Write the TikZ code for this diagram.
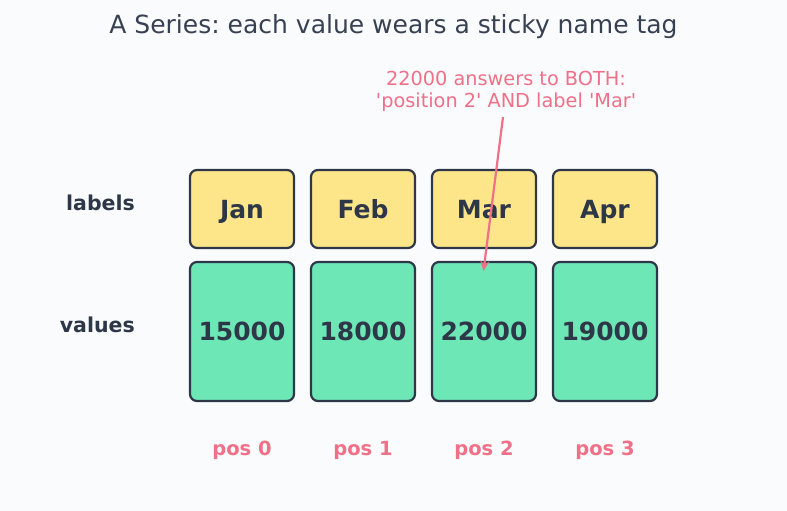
\documentclass[tikz,border=0pt]{standalone}
\usepackage{fontspec}
\setmainfont{DejaVu Sans}
\newfontfamily\plainfont{DejaVu Sans}
\frenchspacing
\usetikzlibrary{arrows.meta}
\definecolor{bgc}{HTML}{FAFBFD}
\definecolor{ink}{HTML}{2D3748}
\definecolor{titlec}{HTML}{374151}
\definecolor{tagc}{HTML}{FDE68A}
\definecolor{valc}{HTML}{6EE7B7}
\definecolor{pinkc}{HTML}{F07088}
\tikzset{
  boxtext/.style={text=ink, font=\bfseries\fontsize{25}{30}\selectfont, text height=18pt, text depth=0pt},
  tagbox/.style={draw=ink, line width=2.2pt, fill=tagc, rounded corners=7pt, minimum width=104pt, minimum height=78pt, inner sep=0pt, boxtext},
  valbox/.style={draw=ink, line width=2.2pt, fill=valc, rounded corners=7pt, minimum width=104pt, minimum height=139pt, inner sep=0pt, boxtext},
  rowlabel/.style={anchor=east, text=ink, font=\bfseries\fontsize{20.5}{24}\selectfont, inner sep=0pt, text height=15pt, text depth=0pt},
  poslabel/.style={text=pinkc, font=\bfseries\fontsize{19.5}{23}\selectfont, inner sep=0pt, text height=15pt, text depth=0pt},
  note/.style={text=pinkc, align=center, font=\plainfont\fontsize{19.3}{22}\selectfont, inner sep=0pt},
  pointer/.style={draw=pinkc, line width=2.2pt, -{Stealth[length=10pt,width=9pt]}}
}
\begin{document}
\begin{tikzpicture}[x=1pt,y=-1pt]
\path[fill=bgc] (0,0) rectangle (787,511);
\useasboundingbox (0,0) rectangle (787,511);
\node[text=titlec, font=\fontsize{25}{30}\selectfont, inner sep=0pt] (title) at (393.5,27) {A Series: each value wears a sticky name tag};
\node[rowlabel] (lbl) at (135,203) {labels};
\node[rowlabel] (vls) at (135,325) {values};
\node[tagbox] (t0) at (242,209) {Jan};
\node[tagbox] (t1) at (363,209) {Feb};
\node[tagbox] (t2) at (484,209) {Mar};
\node[tagbox] (t3) at (605,209) {Apr};
\node[valbox] (v0) at (242,331.5) {15000};
\node[valbox] (v1) at (363,331.5) {18000};
\node[valbox] (v2) at (484,331.5) {22000};
\node[valbox] (v3) at (605,331.5) {19000};
\node[poslabel] (p0) at (242,448) {pos 0};
\node[poslabel] (p1) at (363,448) {pos 1};
\node[poslabel] (p2) at (484,448) {pos 2};
\node[poslabel] (p3) at (605,448) {pos 3};
\node[note] (nt) at (506,91) {22000 answers to BOTH:\\'position 2' AND label 'Mar'};
\coordinate (tip) at (483.5,271);
\draw[pointer] (503,117) -- (tip);
\end{tikzpicture}
\end{document}
